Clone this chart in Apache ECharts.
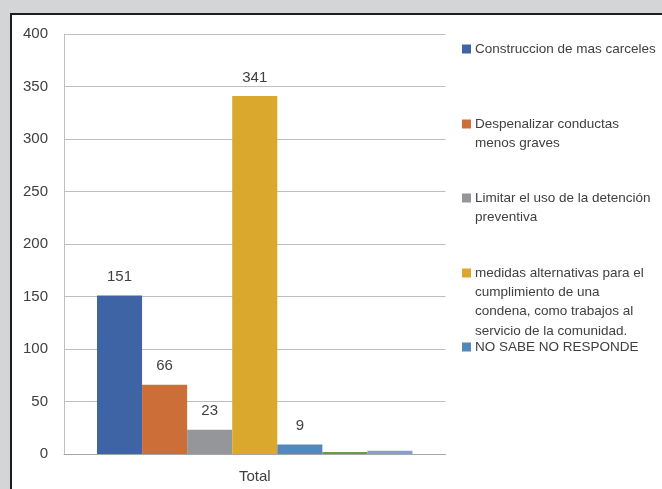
<!DOCTYPE html>
<html>
<head>
<meta charset="utf-8">
<script src="https://cdn.jsdelivr.net/npm/echarts@6/dist/echarts.min.js"></script>
<style>
html,body{margin:0;padding:0;background:#d4d5d7;}
#chart{width:662px;height:489px;}
</style>
</head>
<body>
<div id="chart"></div>
<script>
// ---- data ----
var categories = ['Total'];
var seriesNames = [
  'Construccion de mas carceles',
  'Despenalizar conductas menos graves',
  'Limitar el uso de la detención preventiva',
  'medidas alternativas para el cumplimiento de una condena, como trabajos al servicio de la comunidad.',
  'NO SABE NO RESPONDE',
  'Serie 6',
  'Serie 7'
];
var seriesValues = [151, 66, 23, 341, 9, 2, 3];
var showLabel = [true, true, true, true, true, false, false];
var legendLines = [
  ['Construccion de mas carceles'],
  ['Despenalizar conductas', 'menos graves'],
  ['Limitar el uso de la detención', 'preventiva'],
  ['medidas alternativas para el', 'cumplimiento de una', 'condena, como trabajos al', 'servicio de la comunidad.'],
  ['NO SABE NO RESPONDE']
];
var yTicks = {min: 0, max: 400, interval: 50};

// ---- style ----
var colors = ['#3E64A5', '#CB6E38', '#95969A', '#DAA82C', '#5587B9', '#6B9A45', '#8B9DCF'];
var FONT = "'Liberation Sans', Arial, sans-serif";
var TXT = '#404040';
var legendFirstLineCenters = [49, 124, 198, 273, 347];
var LH = 19.3;

var chart = echarts.init(document.getElementById('chart'), null, {renderer: 'canvas'});

var graphics = [
  {type: 'rect', z: -10, silent: true, shape: {x: 0, y: 0, width: 662, height: 489}, style: {fill: '#d4d5d7'}},
  {type: 'rect', z: -9, silent: true, shape: {x: 11, y: 14, width: 651, height: 475}, style: {fill: '#ffffff'}},
  {type: 'rect', z: -8, silent: true, shape: {x: 10, y: 13, width: 2, height: 476}, style: {fill: '#1e1e1e'}},
  {type: 'rect', z: -8, silent: true, shape: {x: 10, y: 13, width: 652, height: 2}, style: {fill: '#1e1e1e'}}
];
legendLines.forEach(function (lines, i) {
  var c = legendFirstLineCenters[i];
  graphics.push({type: 'rect', silent: true, shape: {x: 462, y: c - 4.5, width: 9, height: 9}, style: {fill: colors[i]}});
  graphics.push({type: 'text', silent: true, x: 475, y: c - LH / 2,
    style: {text: lines.join('\n'), fill: TXT, font: '13.5px ' + FONT, lineHeight: LH, verticalAlign: 'top', align: 'left'}});
});

var series = seriesNames.map(function (name, i) {
  return {
    name: name,
    type: 'bar',
    data: [seriesValues[i]],
    barGap: '0%',
    barCategoryGap: '17.3%',
    itemStyle: {color: colors[i]},
    label: {show: showLabel[i], position: 'top', distance: 11, color: TXT, fontSize: 15, fontFamily: FONT},
    animation: false
  };
});

chart.setOption({
  animation: false,
  backgroundColor: 'transparent',
  graphic: graphics,
  grid: {left: 64, right: 216.5, top: 34, bottom: 35},
  xAxis: {
    type: 'category',
    data: categories,
    axisTick: {show: false},
    axisLine: {show: true, lineStyle: {color: '#a6a6a6', width: 1}},
    axisLabel: {color: TXT, fontSize: 15, fontFamily: FONT, margin: 15}
  },
  yAxis: {
    type: 'value',
    min: yTicks.min, max: yTicks.max, interval: yTicks.interval,
    axisLine: {show: true, lineStyle: {color: '#bfbfbf'}},
    axisTick: {show: false},
    splitLine: {lineStyle: {color: '#bfbfbf'}},
    axisLabel: {color: TXT, fontSize: 15, fontFamily: FONT, margin: 16}
  },
  series: series
});
</script>
</body>
</html>
